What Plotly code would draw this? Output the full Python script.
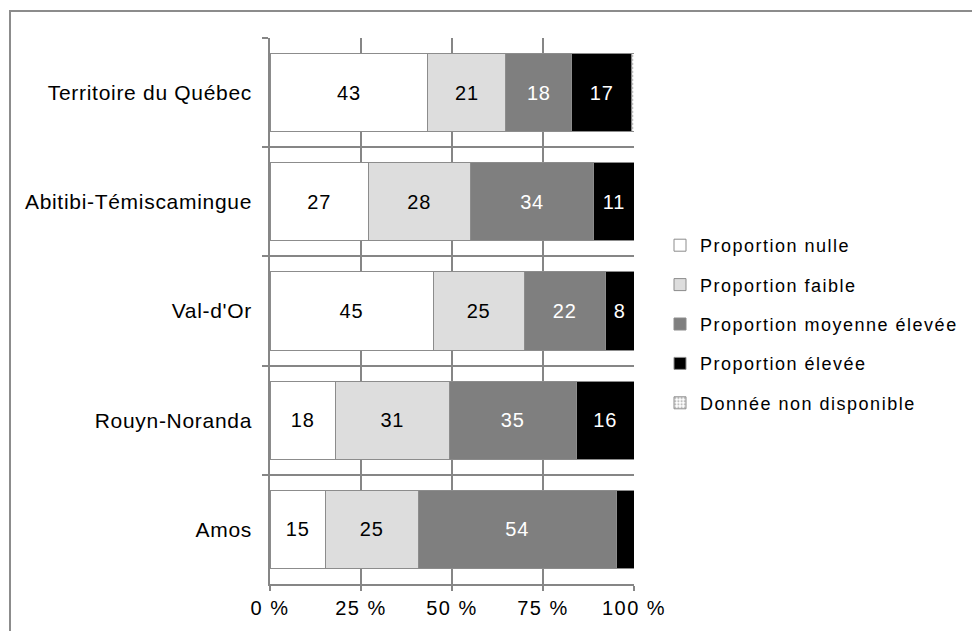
import plotly.graph_objects as go

categories = ["Territoire du Québec", "Abitibi-Témiscamingue", "Val-d'Or", "Rouyn-Noranda", "Amos"]
nulle = [43.4, 27.0, 44.8, 18.0, 15.2]
faible = [21.4, 28.0, 25.0, 31.2, 25.5]
moyenne = [18.1, 34.0, 22.3, 35.0, 54.4]
elevee = [16.5, 11.0, 7.9, 15.8, 4.9]
non_dispo = [0.6, 0, 0, 0, 0]

lbl_nulle = ["43", "27", "45", "18", "15"]
lbl_faible = ["21", "28", "25", "31", "25"]
lbl_moyenne = ["18", "34", "22", "35", "54"]
lbl_elevee = ["17", "11", "8", "16", ""]

tick_vals = [0, 25, 50, 75, 100]
tick_text = ["0 %", "25 %", "50 %", "75 %", "100 %"]

font_family = "Liberation Sans, Arial, sans-serif"
edge = "#8c8c8c"

series = [
    ("Proportion nulle", nulle, lbl_nulle, "#ffffff", "#000000", None),
    ("Proportion faible", faible, lbl_faible, "#dddddd", "#000000", None),
    ("Proportion moyenne élevée", moyenne, lbl_moyenne, "#7f7f7f", "#ffffff", None),
    ("Proportion élevée", elevee, lbl_elevee, "#000000", "#ffffff", None),
    ("Donnée non disponible", non_dispo, [""] * 5, "#ffffff", "#000000", "."),
]

fig = go.Figure()
for i, (name, vals, labels, color, tcolor, pat) in enumerate(series):
    marker = dict(color=color, line=dict(color=edge, width=1))
    if pat:
        marker["pattern"] = dict(shape=pat, fgcolor="#808080", bgcolor="#ffffff", size=4, solidity=0.4)
    fig.add_trace(go.Bar(
        y=categories, x=vals, name=name, orientation="h",
        marker=marker, text=labels, textposition="inside",
        insidetextanchor="middle",
        textfont=dict(color=tcolor, size=20, family=font_family),
        legendgroup=name, hoverinfo="x+name",
    ))

fig.update_layout(
    barmode="stack",
    bargap=0.285,
    width=972, height=631,
    margin=dict(l=270, r=338, t=38, b=47),
    paper_bgcolor="#ffffff", plot_bgcolor="#ffffff",
    font=dict(family=font_family, size=20, color="#000000"),
    uniformtext=dict(mode=False),
    legend=dict(
        x=(660 - 270) / 364, y=(584 - 227) / 546, xanchor="left", yanchor="top",
        font=dict(size=18, family=font_family),
        traceorder="grouped", tracegroupgap=13,
        itemwidth=30, bgcolor="rgba(0,0,0,0)",
    ),
    xaxis=dict(
        range=[0, 100], tickvals=tick_vals, ticktext=tick_text,
        showgrid=True, gridcolor="#868686", gridwidth=1.5,
        showline=True, linecolor="#868686", linewidth=1.5,
        ticks="outside", ticklen=5, tickcolor="#868686", tickwidth=1.5,
        zeroline=False, tickfont=dict(size=20),
    ),
    yaxis=dict(
        categoryorder="array", categoryarray=categories, autorange="reversed",
        showline=True, linecolor="#868686", linewidth=1.5,
        ticks="outside", ticklen=6, tickcolor="#868686", tickwidth=1.5,
        tickson="boundaries", showgrid=True, gridcolor="#868686", gridwidth=1.5,
        tickfont=dict(size=21), ticklabelstandoff=12,
    ),
    shapes=[dict(
        type="rect", xref="paper", yref="paper",
        x0=(10 - 270) / 364, x1=(1000 - 270) / 364,
        y0=(584 - 660) / 546, y1=(584 - 11) / 546,
        line=dict(color="#8c8c8c", width=2), fillcolor="rgba(0,0,0,0)", layer="below",
    )],
)

post = """
var gd = document.getElementById('{plot_id}');
function sp(sel, v){ gd.querySelectorAll(sel).forEach(function(e){ e.style.letterSpacing = v; }); }
sp('text.legendtext', '1.5px');
sp('g.ytick text', '0.7px');
sp('g.xtick text', '1.5px');
sp('text.bartext', '0.8px');
gd.querySelectorAll('g.legend, g.legend g.scrollbox').forEach(function(e){
  e.removeAttribute('clip-path'); e.style.clipPath = 'none';
});
"""

fig.write_html("out.html", post_script=post)
